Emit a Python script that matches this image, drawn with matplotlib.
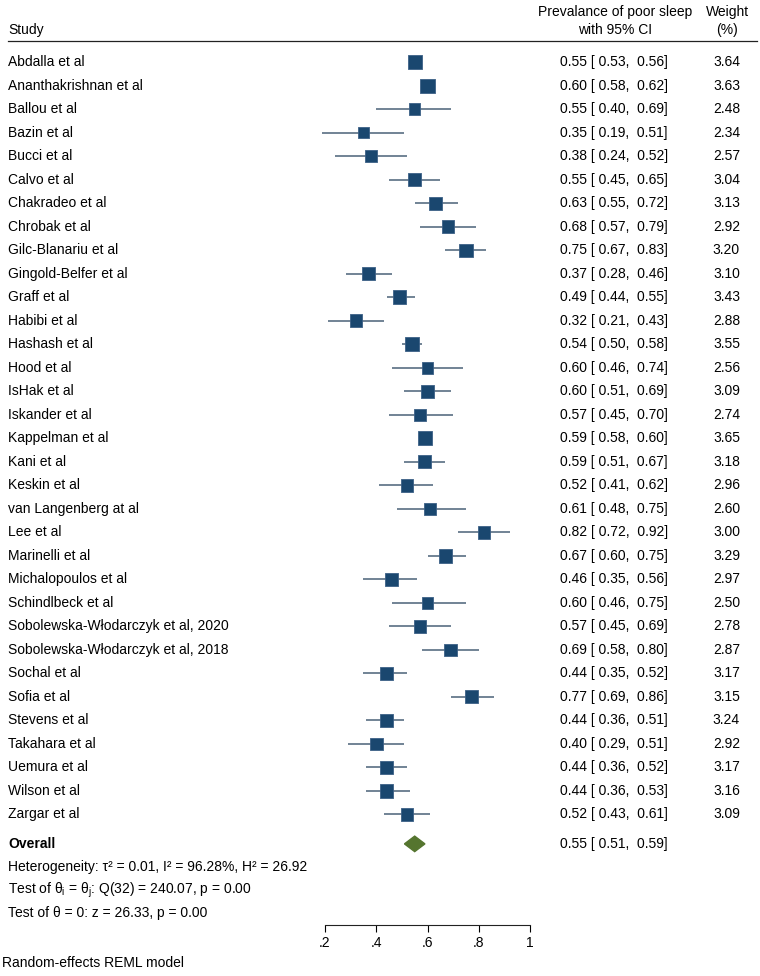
import numpy as np
import matplotlib
matplotlib.use("Agg")
import matplotlib.pyplot as plt
import matplotlib.transforms as mtransforms
from matplotlib.patches import Polygon

plt.rcParams['font.family'] = ['Liberation Sans', 'DejaVu Sans']
plt.rcParams['mathtext.fontset'] = 'custom'
plt.rcParams['mathtext.rm'] = 'Liberation Sans'
plt.rcParams['mathtext.it'] = 'Liberation Sans'

studies = ["Abdalla et al", "Ananthakrishnan et al", "Ballou et al", "Bazin et al",
           "Bucci et al", "Calvo et al", "Chakradeo et al", "Chrobak et al",
           "Gilc-Blanariu et al", "Gingold-Belfer et al", "Graff et al", "Habibi et al",
           "Hashash et al", "Hood et al", "IsHak et al", "Iskander et al",
           "Kappelman et al", "Kani et al", "Keskin et al", "van Langenberg at al",
           "Lee et al", "Marinelli et al", "Michalopoulos et al", "Schindlbeck et al",
           "Sobolewska-Włodarczyk et al, 2020", "Sobolewska-Włodarczyk et al, 2018",
           "Sochal et al", "Sofia et al", "Stevens et al", "Takahara et al",
           "Uemura et al", "Wilson et al", "Zargar et al"]
est = [0.55, 0.60, 0.55, 0.35, 0.38, 0.55, 0.63, 0.68, 0.75, 0.37, 0.49, 0.32,
       0.54, 0.60, 0.60, 0.57, 0.59, 0.59, 0.52, 0.61, 0.82, 0.67, 0.46, 0.60,
       0.57, 0.69, 0.44, 0.77, 0.44, 0.40, 0.44, 0.44, 0.52]
lo = [0.53, 0.58, 0.40, 0.19, 0.24, 0.45, 0.55, 0.57, 0.67, 0.28, 0.44, 0.21,
      0.50, 0.46, 0.51, 0.45, 0.58, 0.51, 0.41, 0.48, 0.72, 0.60, 0.35, 0.46,
      0.45, 0.58, 0.35, 0.69, 0.36, 0.29, 0.36, 0.36, 0.43]
hi = [0.56, 0.62, 0.69, 0.51, 0.52, 0.65, 0.72, 0.79, 0.83, 0.46, 0.55, 0.43,
      0.58, 0.74, 0.69, 0.70, 0.60, 0.67, 0.62, 0.75, 0.92, 0.75, 0.56, 0.75,
      0.69, 0.80, 0.52, 0.86, 0.51, 0.51, 0.52, 0.53, 0.61]
weights = [3.64, 3.63, 2.48, 2.34, 2.57, 3.04, 3.13, 2.92, 3.20, 3.10, 3.43, 2.88,
           3.55, 2.56, 3.09, 2.74, 3.65, 3.18, 2.96, 2.60, 3.00, 3.29, 2.97, 2.50,
           2.78, 2.87, 3.17, 3.15, 3.24, 2.92, 3.17, 3.16, 3.09]
overall = (0.55, 0.51, 0.59)
xticks = [0.2, 0.4, 0.6, 0.8, 1.0]
xticklabels = [".2", ".4", ".6", ".8", "1"]

W, H = 760, 976
fig = plt.figure(figsize=(W / 100, H / 100), dpi=100)
# plot area: x=.2 at px 325, x=1 at px 530; bottom axis line at px 925
ax = fig.add_axes([325 / W, (H - 925) / H, 205 / W, 925 / H])
ax.set_xlim(0.2, 1.0)
ax.set_ylim(36.7, -2.64)
for s in ["top", "right", "left"]:
    ax.spines[s].set_visible(False)
ax.spines["bottom"].set_color("#222222")
ax.spines["bottom"].set_linewidth(0.8)
ax.set_yticks([])
ax.set_xticks(xticks)
ax.set_xticklabels(xticklabels)
ax.tick_params(axis="x", direction="out", length=5, width=0.8, labelsize=10, pad=3)

rows = np.arange(len(studies))
ax.hlines(rows, lo, hi, color="#4a6278", lw=1.1, zorder=2, clip_on=False)
ax.scatter(est, rows, s=np.array(weights) * 28, marker="s", color="#1a476f",
           edgecolor="#3d6187", linewidth=0.6, zorder=3, clip_on=False)

# overall diamond
y_ov = 33.25
ov_e, ov_l, ov_h = overall
ax.add_patch(Polygon([[ov_l, y_ov], [ov_e, y_ov - 0.33], [ov_h, y_ov], [ov_e, y_ov + 0.33]],
                     closed=True, facecolor="#55752f", edgecolor="#55752f", zorder=3,
                     clip_on=False))

tr = mtransforms.blended_transform_factory(fig.transFigure, ax.transData)
fs = 10
x_name = 8 / W
x_ci = 668 / W
x_w = 740 / W
dy = 0.17  # baseline offset below the row centre


def put(x, y, s, ha="left", **kw):
    ax.text(x, y + dy, s, transform=tr, fontsize=fs, va="baseline", ha=ha, **kw)


# header
put(x_name, -1.36, "Study")
put(615 / W, -2.13, "Prevalance of poor sleep", ha="center")
put(615 / W, -1.36, "with 95% CI", ha="center")
put(727 / W, -2.13, "Weight", ha="center")
put(727 / W, -1.36, "(%)", ha="center")
ax.plot([8 / W, 757 / W], [-0.9, -0.9], transform=tr, color="#222222", lw=0.9,
        clip_on=False)

for i, name in enumerate(studies):
    put(x_name, i, name)
    put(x_ci, i, "%.2f [ %.2f,  %.2f]" % (est[i], lo[i], hi[i]), ha="right")
    put(x_w, i, "%.2f" % weights[i], ha="right")

put(x_name, y_ov, "Overall", fontweight="bold")
put(x_ci, y_ov, "%.2f [ %.2f,  %.2f]" % overall, ha="right")

put(x_name, 34.22, "Heterogeneity: τ² = 0.01, I² = 96.28%, H² = 26.92")
put(x_name, 35.2, r"Test of $\theta_\mathrm{i}$ = $\theta_\mathrm{j}$: Q(32) = 240.07, p = 0.00")
put(x_name, 36.2, "Test of θ = 0: z = 26.33, p = 0.00")
put(2 / W, 38.3, "Random-effects REML model")

fig.savefig("out.png", dpi=100, facecolor="white")
